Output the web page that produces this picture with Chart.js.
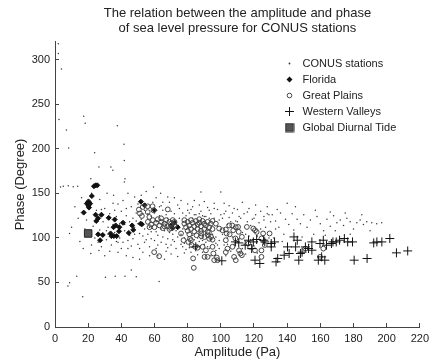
<!DOCTYPE html>
<html>
<head>
<meta charset="utf-8">
<script src="https://cdn.jsdelivr.net/npm/chart.js@4/dist/chart.umd.min.js"></script>
<style>
  html, body { margin: 0; padding: 0; background: #fff; }
  #phaseChart { display: block; }
</style>
</head>
<body>
<canvas id="phaseChart" width="438" height="364"></canvas>
<script>
// [amplitude (Pa), phase (degree)]
var conus = [
  [2,307],[2,318],[3.9,289.7],[2.4,233],[6.9,221],[8.2,201],[3.3,157],[5,158],[8,158.5],[11,157.5],[13.7,158],
  [8.8,105],[7.8,46],[8.8,49.6],[13.1,57],[16.7,34],[17.3,236.6],[18.2,228.8],[10,112],[15,96],[14,122],[17,88],
  [12,135],[18,110],[16,145],[19,120],
  [21.6,166.5],[23.9,195.6],[26.5,179.5],[33.7,179.5],[34.9,175.8],[31.4,150],[35.3,147.8],[37.6,225.9],[21.6,82.5],
  [26.5,86],[30.4,55.7],[36.3,57],[22,92],[23,113],[25,131],[27,109],[28,90],[29,118],[30,133],[31,98],[32,112],
  [33,127],[34,92],[35,139],[36,106],[37,124],[38,95],[39,116],[40,130],[22,150],[27,143],[30,80],[33,85],[38,84],
  [24,100],[29,126],[31,108],[36,131],[39,100],
  [41.6,205],[41.8,187],[42.2,166.5],[41.8,162.7],[42.2,57],[46,64],[49,56.3],[41,95],[42,108],[43,125],[44,88],
  [45,118],[46,135],[47,99],[48,112],[49,128],[50,93],[51,105],[52,121],[53,84],[54,110],[55,98],[56,127],[57,90],
  [58,107],[59,140],[41,142],[44,150],[48,146],[52,148],[55,152],[59.4,157],[43,80],[47,78],[51,76],[57,80],[45,103],
  [49,119],[53,102],[58,124],[60,97],[42,115],[46,91],[50,138],[54,131],[56,104],
  [63.7,150],[62.8,51],[61,88],[62,103],[63,125],[64,95],[65,131],[66,108],[67,85],[68,99],[69,140],[70,92],[71,104],
  [72,127],[73,88],[74,101],[75,133],[76,93],[77,110],[78,83],[79,125],[61,145],[65,140],[72,145],[76,142],[80,138],
  [64,110],[68,122],[73,108],[77,90],[62,80],[66,76],[70,82],[74,79],[78,100],[80,131],[63,135],[67,93],[71,98],
  [75,122],[79,87],[68,146],[61,118],
  [88,151.5],[100,151.5],[81,128],[82,84],[83,135],[84,98],[85,126],[86,81],[87,96],[88,130],[89,84],[90,124],[91,95],
  [92,134],[93,88],[94,127],[95,104],[96,122],[97,86],[98,132],[99,97],[100,126],[84,142],[90,141],[96,139],[82,93],
  [86,100],[90,93],[94,80],[98,92],[83,122],[87,127],[91,124],[93,131],[99,120],[85,88],[89,97],[97,101],
  [102,139],[101,122],[102,92],[103,130],[104,100],[105,123],[106,85],[107,128],[108,93],[109,119],[110,132],[111,99],
  [112,122],[113,88],[114,127],[115,104],[116,118],[117,133],[118,98],[119,121],[120,91],[121,126],[122,102],[123,117],
  [124,130],[125,95],[126,120],[127,112],[128,127],[129,100],[130,118],[105,136],[113,140],[121,137],[128,135],
  [104,115],[110,118],[118,114],[126,124],[103,80],[115,82],[122,83],
  [140,139],[131,126],[133,119],[135,112],[136,128],[138,104],[139,121],[141,115],[143,127],[144,109],[146,121],
  [148,116],[150,126],[152,112],[154,120],[156,104],[158,124],[160,116],[162,108],[164,121],[166,113],[168,125],
  [170,117],[172,120],[174,114],[176,122],[178,118],[180,110],[182,117],[184,120],[186,115],[188,118],[191,117],
  [194,116],[197,117],[134,132],[145,135],[157,131],[166,129],[175,128],[185,126],[137,96],[149,101],[163,103],
  [178,104],[132,100],[153,93],[169,108],[190,108],
  [43,133],[44,97],[47,122],[48,104],[50,116],[51,88],[53,127],[54,95],[57,112],[58,99],[60,128],[61,107],
  [62,92],[64,136],[65,101],[67,126],[68,89],[69,106],[70,130],[72,96],[73,119],[74,137],[76,104],[77,128],[78,94],
  [80,112],[81,89],[82,132],[83,103],[84,126],[86,92],[87,137],[88,99],[89,125],[91,105],[92,90],[93,122],[94,98],
  [96,133],[97,94],[98,113],[99,88],[101,104],[102,127],[104,93],[106,118],[107,101],[108,133],[110,96],[111,124],
  [113,106],[114,93],[116,129],[117,102],[119,87],[120,122],[122,96],[124,110],[127,98],[129,126],[131,94],[133,110],
  [35,115],[37,96],[32,104],[28,132],[26,95],[24,118],[40,88],[38,138]
];

var florida = [
  [24.5,159],[25.5,159],[23.5,158],[22.2,147],[20.2,141],[19.2,138.5],[21.2,138.5],[20.2,136],[20.5,134],[17.3,128.4],
  [24.5,126],[28,126],[24.9,119],[26,122],[32.4,122.5],[36.6,114],[38.8,112],[35.3,112],[38.6,107.5],[33.5,105],
  [35.5,102],[34,102],[37.2,102],[26,104],[28.8,103.3],[27.2,97.4],[41,117],[44.5,105.6],[46.5,114],[47.2,109],
  [51.6,116],[60,131],[54,136.6],[51.8,140.7],[52.4,115.3],[36,120.6],[70,114],[72,117],[74,112],[71,111]
];

var greatPlains = [
  [50.6,131.8],[52.9,134.7],[55.9,135.5],[58.8,135.5],[59.4,131],[55.9,129],[56.9,123.5],[52.4,124.6],[51.2,127.4],
  [68,132],[56,118],[58,115],[59,120],[60,112],[61,117],[62,121],[63,114],[64,118],[65,111],[66,116],[67,120],[68,113],
  [69,118],[70,111],[70,116],[71,120],[72,114],[57,112],[64,122],[66,113],[69,110],[72,118],
  [78,116],[79,112],[80,118],[81,114],[82,110],[83,117],[84,113],[85,119],[86,115],[86,110],[87,117],[88,113],[89,119],
  [90,116],[90,110],[91,114],[92,118],[93,112],[94,116],[95,110],[80,108],[84,107],[88,108],[92,107],[78,120],[95,119],
  [82,120],[87,121],
  [76,105],[77.5,97.4],[81,104],[82,97.4],[84.5,90],[86,89],[88.2,102],[92.8,106],[95,90],[93,99],[81.4,99],[80.4,95.5],
  [82.4,92],[85.3,103],[88.2,105],[90.2,101],[92.2,103],[94.1,101],
  [59.8,84],[62.8,79.5],[83.3,77],[83.7,66.4],[90.2,78.7],[96,75],[97.6,78],[95,98],[95.5,82.5],
  [99,110.5],[101,108.6],[103,109.4],[103.5,105],[105.3,104],[103,97.4],[104,88],[106.9,114],[107.5,108.6],[110.4,112.3],
  [110.8,106.8],[112.7,101.2],[108.8,99.4],[111.8,82.5],[116.6,93.7],[120.6,108.6],[124.5,99.4],[124.5,86],[115.7,112.3],
  [97,116],[105,114],[109,112],[119.6,110.5],[121.6,106.7],[125.5,105],[129.4,105],
  [89,90],[91,86],[92,78.7],[98,75],[103,84],[107,90],[111,86],[112.7,80.6],[117.6,90],[120.6,86],[126.5,92],[108,78.7],
  [109,75],[124.5,78.7],[151,88],[161.8,88],[159.8,78.7]
];

var westernValleys = [
  [100.6,74.3],[84.9,90],[108.8,95.5],[110.8,94.4],[114.7,91.8],[116.7,97.4],[119.6,95.5],[121.6,98.2],[120.6,75],
  [123.5,71.3],[126.5,95.5],[130.4,93.7],[132.4,95.5],[133.3,73.1],[134.3,76.9],[140.2,89.9],[141.2,82.5],[144.1,101.1],
  [146.1,97.4],[145.1,89.9],[148,82.5],[147,75],[151,89.9],[152.9,88.1],[154.9,86.2],[154.9,95.5],[158.8,75],[160.8,78.7],
  [162.7,75],[159.8,93.7],[161.8,97.4],[163.7,91.8],[166.7,93.7],[167.6,95.5],[169.6,95.5],[171.6,97.4],[174.5,99.3],
  [176.5,95.5],[179.4,95.5],[180.4,75],[188.2,76.9],[192.2,94.4],[194.1,95.5],[197.1,95.5],[201.9,99.3],[205.9,83.2],
  [212.7,85.4],[118.6,88],[130.4,89.9],[138.2,80.6],[125.9,97.4],[149,84]
];

var globalTide = [[20,105]];

var seriesNames = ['CONUS stations', 'Florida', 'Great Plains', 'Western Valleys', 'Global Diurnal Tide'];
var titleLines = ['The relation between the amplitude and phase', 'of sea level pressure for CONUS stations'];

var FONT = "'Liberation Sans', Arial, sans-serif";
var INK = '#222';

function toPoints(list) {
    return list.map(function (p) { return { x: p[0], y: p[1] }; });
}

// little canvases for the legend markers, each with its own size
function icon(w, h, paint) {
    var c = document.createElement('canvas');
    c.width = w; c.height = h;
    paint(c.getContext('2d'), w / 2, h / 2);
    return c;
}
var legendIcons = [
    icon(5, 5, function (g, cx, cy) { g.fillStyle = '#333'; g.beginPath(); g.arc(cx, cy, 0.9, 0, Math.PI * 2); g.fill(); }),
    icon(9, 9, function (g, cx, cy) {
        g.fillStyle = '#111'; g.beginPath();
        g.moveTo(cx - 3, cy); g.lineTo(cx, cy - 3); g.lineTo(cx + 3, cy); g.lineTo(cx, cy + 3); g.closePath(); g.fill();
    }),
    icon(9, 9, function (g, cx, cy) { g.strokeStyle = '#444'; g.lineWidth = 1; g.beginPath(); g.arc(cx, cy, 2.3, 0, Math.PI * 2); g.stroke(); }),
    icon(11, 11, function (g, cx, cy) {
        g.strokeStyle = '#111'; g.lineWidth = 1; g.beginPath();
        g.moveTo(cx - 4.5, cy); g.lineTo(cx + 4.5, cy); g.moveTo(cx, cy - 4.5); g.lineTo(cx, cy + 4.5); g.stroke();
    }),
    icon(10, 10, function (g, cx, cy) { g.fillStyle = '#555'; g.fillRect(cx - 4, cy - 4, 8, 8); g.strokeStyle = '#222'; g.strokeRect(cx - 4, cy - 4, 8, 8); })
];

// put title over the plot and legend in the upper right, like the original figure
var placeBlocks = {
    id: 'placeBlocks',
    afterLayout: function (chart) {
        var area = chart.chartArea;
        if (chart.titleBlock) {
            chart.titleBlock.left = area.left;
            chart.titleBlock.right = area.right;
        }
        if (chart.legend) {
            chart.legend.left = 277;
            chart.legend.top = 53;
        }
    }
};

var phaseChart = new Chart(document.getElementById('phaseChart').getContext('2d'), {
    type: 'scatter',
    data: {
        datasets: [{
            label: seriesNames[0],
            data: toPoints(conus),
            pointStyle: 'circle',
            pointRadius: 0.75,
            backgroundColor: '#3a3a3a',
            borderWidth: 0,
            order: 5
        }, {
            label: seriesNames[1],
            data: toPoints(florida),
            pointStyle: 'rectRot',
            pointRadius: 2.5,
            backgroundColor: '#111',
            borderColor: '#111',
            borderWidth: 1,
            order: 4
        }, {
            label: seriesNames[2],
            data: toPoints(greatPlains),
            pointStyle: 'circle',
            pointRadius: 2.4,
            backgroundColor: 'rgba(0,0,0,0)',
            borderColor: '#444',
            borderWidth: 1,
            order: 3
        }, {
            label: seriesNames[3],
            data: toPoints(westernValleys),
            pointStyle: 'cross',
            pointRadius: 4.5,
            borderColor: '#111',
            borderWidth: 1,
            order: 2
        }, {
            label: seriesNames[4],
            data: toPoints(globalTide),
            pointStyle: 'rect',
            pointRadius: 5.3,
            backgroundColor: '#555',
            borderColor: '#222',
            borderWidth: 1,
            order: 1
        }]
    },
    options: {
        responsive: false,
        animation: false,
        devicePixelRatio: 1,
        layout: { padding: { left: 9, right: 9, top: 0, bottom: 0 } },
        plugins: {
            tooltip: { enabled: false },
            title: {
                display: true,
                text: titleLines,
                color: INK,
                font: { family: FONT, size: 13, weight: 'normal', lineHeight: 1.15 },
                padding: { top: 5.5, bottom: 6.5 }
            },
            legend: {
                position: 'chartArea',
                align: 'start',
                labels: {
                    color: INK,
                    font: { family: FONT, size: 11 },
                    usePointStyle: true,
                    pointStyleWidth: 15,
                    padding: 5,
                    generateLabels: function (chart) {
                        return chart.data.datasets.map(function (ds, i) {
                            return {
                                text: ds.label,
                                datasetIndex: i,
                                pointStyle: legendIcons[i],
                                fillStyle: 'rgba(0,0,0,0)',
                                strokeStyle: 'rgba(0,0,0,0)',
                                lineWidth: 0,
                                hidden: false,
                                fontColor: INK
                            };
                        });
                    }
                }
            }
        },
        scales: {
            x: {
                type: 'linear',
                min: 0,
                max: 220,
                afterFit: function (scale) { scale.height = 37; },
                ticks: { stepSize: 20, color: INK, padding: 9, font: { family: FONT, size: 11 } },
                grid: { drawOnChartArea: false, drawTicks: true, tickLength: -4, color: '#444' },
                border: { display: true, color: '#444' },
                title: { display: true, text: 'Amplitude (Pa)', color: INK, font: { family: FONT, size: 13 } }
            },
            y: {
                type: 'linear',
                min: 0,
                max: 320,
                afterFit: function (scale) { scale.width = 46; },
                ticks: { stepSize: 50, includeBounds: false, color: INK, padding: 9, font: { family: FONT, size: 11 } },
                grid: { drawOnChartArea: false, drawTicks: true, tickLength: -4, color: '#444' },
                border: { display: true, color: '#444' },
                title: { display: true, text: 'Phase (Degree)', color: INK, font: { family: FONT, size: 13 } }
            }
        }
    },
    plugins: [placeBlocks]
});
</script>
</body>
</html>
